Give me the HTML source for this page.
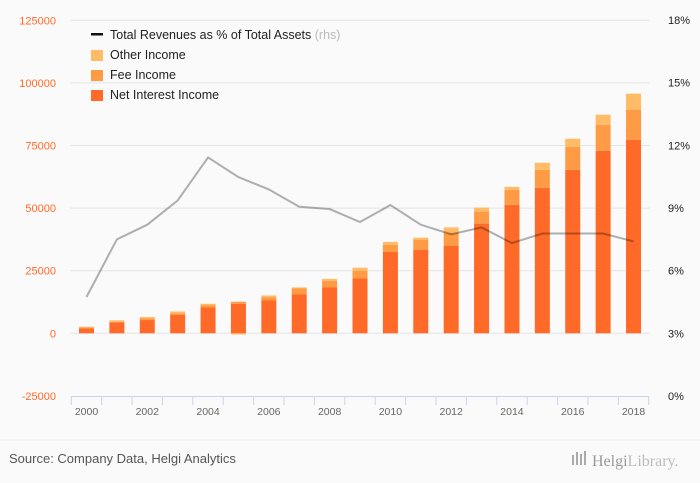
<!DOCTYPE html>
<html><head><meta charset="utf-8"><style>
body{margin:0;background:#fafafa;}
svg{display:block;font-family:"Liberation Sans","DejaVu Sans",sans-serif;}
</style></head><body>
<svg id="chart" width="700" height="483" viewBox="0 0 700 483">
<rect width="700" height="483" fill="#fafafa"/>
<g id="grid"></g><g id="bars"></g><g id="line"></g><g id="axes"></g>
<g font-size="12.5" fill="#222">
 <g><rect x="91" y="33" width="12" height="2.5" fill="#111"/><text x="110" y="39">Total Revenues as % of Total Assets <tspan fill="#bbb">(rhs)</tspan></text></g>
 <g><rect x="91" y="50" width="12" height="11" fill="#ffbb66"/><text x="110" y="59">Other Income</text></g>
 <g><rect x="91" y="70" width="12" height="11" fill="#ff9a45"/><text x="110" y="79">Fee Income</text></g>
 <g><rect x="91" y="90" width="12" height="11" fill="#ff6a28"/><text x="110" y="99">Net Interest Income</text></g>
</g>
<line x1="0" y1="440" x2="700" y2="440" stroke="#eee"/>
<text x="9" y="463" font-size="13" fill="#555">Source: Company Data, Helgi Analytics</text>
<g fill="#aaa">
 <rect x="572" y="455" width="2" height="10"/><rect x="576" y="452" width="2" height="13"/><rect x="580" y="454" width="2" height="11"/><rect x="584" y="451" width="2" height="14"/>
 <text x="592" y="466" font-size="16" font-family="Liberation Serif,serif" fill="#999">Helgi<tspan fill="#bbb">Library.</tspan></text>
</g>
</svg>
<script>
const years=[2000,2001,2002,2003,2004,2005,2006,2007,2008,2009,2010,2011,2012,2013,2014,2015,2016,2017,2018];
const netInterest=[2000,4400,5300,7300,10300,11800,13100,15500,18300,21900,32500,33400,35000,43800,51300,58100,65300,72900,77300];
const feeIncome=[300,200,700,700,800,800,1200,2400,2700,3100,2800,4000,5300,4800,6000,7200,9200,10400,12000];
const otherIncome=[300,600,500,700,700,-500,800,400,700,1200,1200,800,2000,1600,1200,2800,3200,4000,6400];
const revPct=[4.74,7.5,8.2,9.36,11.42,10.48,9.89,9.06,8.95,8.33,9.14,8.2,7.74,8.07,7.32,7.78,7.78,7.78,7.4];
const leftTicks=[-25000,0,25000,50000,75000,100000,125000];
const rightTicks=[0,3,6,9,12,15,18];
const NS='http://www.w3.org/2000/svg';
function yL(v){return 333.3-v*62.6/25000;}
function yR(p){return 396-p*(376/18);}
function xC(i){return 86.5+i*30.39;}
function mk(tag,attrs,parent){const e=document.createElementNS(NS,tag);for(const k in attrs)e.setAttribute(k,attrs[k]);parent.appendChild(e);return e;}
const grid=document.getElementById('grid'),bars=document.getElementById('bars'),line=document.getElementById('line'),axes=document.getElementById('axes');
leftTicks.forEach(t=>{
 if(t!==-25000){const g=mk('line',{x1:70,x2:650,y1:yL(t),y2:yL(t),stroke:'#e4e4e4'},grid);
 
 }
 const tx=mk('text',{x:56,y:yL(t)+4,'text-anchor':'end','font-size':'11',fill:'#ff6a28'},axes);tx.textContent=t;
 
 
});
rightTicks.forEach(t=>{
 const tx=mk('text',{x:668,y:yR(t)+4,'font-size':'11',fill:'#222'},axes);tx.textContent=t+'%';
 
 
});
years.forEach((yr,i)=>{
 const x=xC(i)-7.5;
 const n=netInterest[i],f=feeIncome[i],o=otherIncome[i];
 const r1=mk('rect',{x:x,width:15,y:yL(n),height:yL(0)-yL(n),fill:'#ff6a28'},bars);
 
 
 const r2=mk('rect',{x:x,width:15,y:yL(n+f),height:yL(n)-yL(n+f),fill:'#ff9a45'},bars);
 
 
 let oy,oh;
 if(o>=0){oy=yL(n+f+o);oh=yL(n+f)-oy;}else{oy=yL(0);oh=yL(o)-yL(0);}
 const r3=mk('rect',{x:x,width:15,y:oy,height:oh,fill:'#ffbb66'},bars);
 
 
 if(yr%2===0){const tx=mk('text',{x:xC(i),y:415,'text-anchor':'middle','font-size':'10.5',fill:'#666'},axes);tx.textContent=yr;
 
 }
});
for(let i=0;i<=years.length;i++){const x=xC(i)-15.2;
 const t=mk('line',{x1:x,x2:x,y1:396.5,y2:405,stroke:'#c8d4ea'},axes);
 
 }
const ax=mk('line',{x1:71,x2:649,y1:396.5,y2:396.5,stroke:'#c8d4ea'},axes);


const pts=revPct.map((p,i)=>xC(i)+','+yR(p)).join(' ');
const pl=mk('polyline',{points:pts,fill:'none',stroke:'rgba(0,0,0,0.3)','stroke-width':2},line);


</script>
</body></html>
